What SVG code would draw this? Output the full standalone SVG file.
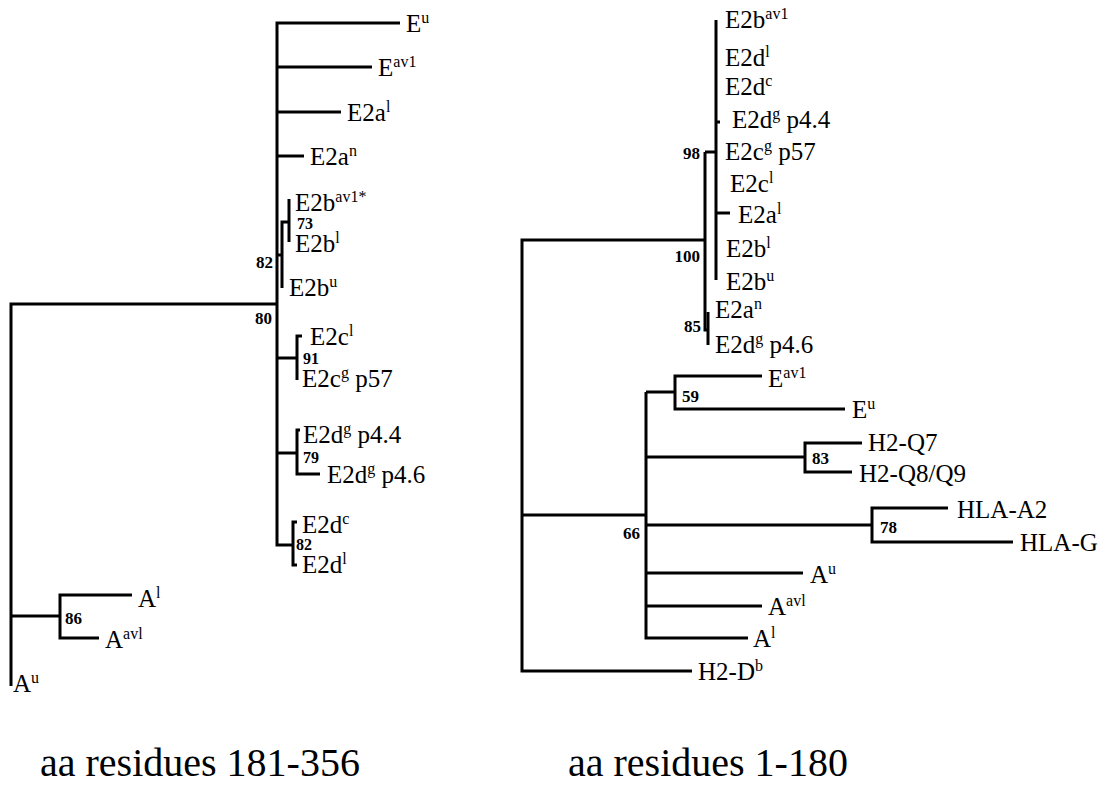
<svg xmlns="http://www.w3.org/2000/svg" width="1104" height="796" viewBox="0 0 1104 796">
<style>
.br{fill:none;stroke:#000;stroke-width:3;stroke-linecap:butt;stroke-linejoin:miter}
.lbl{font-family:"Liberation Serif","Times New Roman",serif;font-size:25px;fill:#000}
.sup{font-size:16px}
.bs{font-family:"Liberation Serif","Times New Roman",serif;font-size:16px;font-weight:bold;fill:#000}
.bsr{font-family:"Liberation Serif","Times New Roman",serif;font-size:17px;font-weight:bold;fill:#000}
.cap{font-family:"Liberation Serif","Times New Roman",serif;font-size:40px;fill:#000}
</style>
<rect width="1104" height="796" fill="#fff"/>
<g id="connectors">
<path class="br" d="M277,304 H11 V686"/>
<path class="br" d="M11,616 H60"/>
<path class="br" d="M132,595 H60 V638 H99"/>
<path class="br" d="M400,23 H277 V545 H293"/>
<path class="br" d="M277,67 H372"/>
<path class="br" d="M277,112 H341"/>
<path class="br" d="M277,156 H304"/>
<path class="br" d="M277,255 H282"/>
<path class="br" d="M282,288 V222 H289"/>
<path class="br" d="M289,199 V242"/>
<path class="br" d="M277,358 H297"/>
<path class="br" d="M302,336 H297 V380"/>
<path class="br" d="M277,453 H297"/>
<path class="br" d="M300,430 H297 V474 H320"/>
<path class="br" d="M297,522 H293 V565 H297"/>
<path class="br" d="M705,240 H522 V671 H692"/>
<path class="br" d="M522,515 H646"/>
<path class="br" d="M646,392 V638 H748"/>
<path class="br" d="M646,392 H675"/>
<path class="br" d="M762,376 H675 V409 H845"/>
<path class="br" d="M646,457 H805"/>
<path class="br" d="M862,443 H805 V472 H852"/>
<path class="br" d="M646,525 H872"/>
<path class="br" d="M948,508 H872 V542 H1013"/>
<path class="br" d="M646,573 H803"/>
<path class="br" d="M646,606 H762"/>
<path class="br" d="M705,152 V330 H708"/>
<path class="br" d="M708,312 V345"/>
<path class="br" d="M705,152 H716"/>
<path class="br" d="M716,20 V280"/>
<path class="br" d="M716,122 H720"/>
<path class="br" d="M716,213 H730"/>
</g>
<g id="L-Eu"><text class="lbl" x="406" y="32">E<tspan class="sup" dy="-9">u</tspan></text></g>
<g id="L-Eav1"><text class="lbl" x="378" y="76">E<tspan class="sup" dy="-9">av1</tspan></text></g>
<g id="L-E2al"><text class="lbl" x="347" y="121">E2a<tspan class="sup" dy="-9">l</tspan></text></g>
<g id="L-E2an"><text class="lbl" x="310" y="165">E2a<tspan class="sup" dy="-9">n</tspan></text></g>
<g id="L-E2bav1"><text class="lbl" x="295" y="211">E2b<tspan class="sup" dy="-9">av1*</tspan></text></g>
<g id="L-E2bl"><text class="lbl" x="295" y="252">E2b<tspan class="sup" dy="-9">l</tspan></text></g>
<g id="L-E2bu"><text class="lbl" x="289" y="296">E2b<tspan class="sup" dy="-9">u</tspan></text></g>
<g id="L-E2cl"><text class="lbl" x="310" y="345">E2c<tspan class="sup" dy="-9">l</tspan></text></g>
<g id="L-E2cg"><text class="lbl" x="302" y="387">E2c<tspan class="sup" dy="-9">g</tspan><tspan dy="9"> p57</tspan></text></g>
<g id="L-E2dg44"><text class="lbl" x="303" y="443">E2d<tspan class="sup" dy="-9">g</tspan><tspan dy="9"> p4.4</tspan></text></g>
<g id="L-E2dg46"><text class="lbl" x="327" y="483">E2d<tspan class="sup" dy="-9">g</tspan><tspan dy="9"> p4.6</tspan></text></g>
<g id="L-E2dc"><text class="lbl" x="302" y="533">E2d<tspan class="sup" dy="-9">c</tspan></text></g>
<g id="L-E2dl"><text class="lbl" x="302" y="573">E2d<tspan class="sup" dy="-9">l</tspan></text></g>
<g id="L-Al"><text class="lbl" x="138" y="607">A<tspan class="sup" dy="-9">l</tspan></text></g>
<g id="L-Aavl"><text class="lbl" x="105" y="648">A<tspan class="sup" dy="-9">avl</tspan></text></g>
<g id="L-Au"><text class="lbl" x="13" y="692">A<tspan class="sup" dy="-9">u</tspan></text></g>
<g id="L-n73"><text class="bs" x="297" y="229">73</text></g>
<g id="L-n82a"><text class="bsr" x="273" y="268" text-anchor="end">82</text></g>
<g id="L-n80"><text class="bsr" x="272" y="324" text-anchor="end">80</text></g>
<g id="L-n91"><text class="bs" x="303" y="364">91</text></g>
<g id="L-n79"><text class="bs" x="303" y="463">79</text></g>
<g id="L-n82b"><text class="bs" x="296" y="550">82</text></g>
<g id="L-n86"><text class="bsr" x="65" y="624">86</text></g>
<g id="R-E2bav1"><text class="lbl" x="725" y="28">E2b<tspan class="sup" dy="-9">av1</tspan></text></g>
<g id="R-E2dl"><text class="lbl" x="725" y="66">E2d<tspan class="sup" dy="-9">l</tspan></text></g>
<g id="R-E2dc"><text class="lbl" x="725" y="95">E2d<tspan class="sup" dy="-9">c</tspan></text></g>
<g id="R-E2dg44"><text class="lbl" x="732" y="128">E2d<tspan class="sup" dy="-9">g</tspan><tspan dy="9"> p4.4</tspan></text></g>
<g id="R-E2cg"><text class="lbl" x="725" y="160">E2c<tspan class="sup" dy="-9">g</tspan><tspan dy="9"> p57</tspan></text></g>
<g id="R-E2cl"><text class="lbl" x="730" y="192">E2c<tspan class="sup" dy="-9">l</tspan></text></g>
<g id="R-E2al"><text class="lbl" x="738" y="223">E2a<tspan class="sup" dy="-9">l</tspan></text></g>
<g id="R-E2bl"><text class="lbl" x="726" y="257">E2b<tspan class="sup" dy="-9">l</tspan></text></g>
<g id="R-E2bu"><text class="lbl" x="726" y="290">E2b<tspan class="sup" dy="-9">u</tspan></text></g>
<g id="R-E2an"><text class="lbl" x="715" y="318">E2a<tspan class="sup" dy="-9">n</tspan></text></g>
<g id="R-E2dg46"><text class="lbl" x="715" y="353">E2d<tspan class="sup" dy="-9">g</tspan><tspan dy="9"> p4.6</tspan></text></g>
<g id="R-Eav1"><text class="lbl" x="768" y="387">E<tspan class="sup" dy="-9">av1</tspan></text></g>
<g id="R-Eu"><text class="lbl" x="852" y="418">E<tspan class="sup" dy="-9">u</tspan></text></g>
<g id="R-Q7"><text class="lbl" x="868" y="451">H2-Q7</text></g>
<g id="R-Q8"><text class="lbl" x="859" y="482">H2-Q8/Q9</text></g>
<g id="R-A2"><text class="lbl" x="957" y="518">HLA-A2</text></g>
<g id="R-G"><text class="lbl" x="1020" y="551">HLA-G</text></g>
<g id="R-Au"><text class="lbl" x="810" y="583">A<tspan class="sup" dy="-9">u</tspan></text></g>
<g id="R-Aavl"><text class="lbl" x="768" y="615">A<tspan class="sup" dy="-9">avl</tspan></text></g>
<g id="R-Al"><text class="lbl" x="753" y="647">A<tspan class="sup" dy="-9">l</tspan></text></g>
<g id="R-H2Db"><text class="lbl" x="698" y="680">H2-D<tspan class="sup" dy="-9">b</tspan></text></g>
<g id="R-n98"><text class="bsr" x="700" y="159" text-anchor="end">98</text></g>
<g id="R-n100"><text class="bsr" x="700" y="262" text-anchor="end">100</text></g>
<g id="R-n85"><text class="bsr" x="701" y="332" text-anchor="end">85</text></g>
<g id="R-n59"><text class="bsr" x="682" y="402">59</text></g>
<g id="R-n83"><text class="bsr" x="812" y="464">83</text></g>
<g id="R-n78"><text class="bsr" x="880" y="533">78</text></g>
<g id="R-n66"><text class="bsr" x="640" y="539" text-anchor="end">66</text></g>
<g id="caption-left"><text class="cap" x="40" y="776">aa residues 181-356</text></g>
<g id="caption-right"><text class="cap" x="568" y="776">aa residues 1-180</text></g>
</svg>
